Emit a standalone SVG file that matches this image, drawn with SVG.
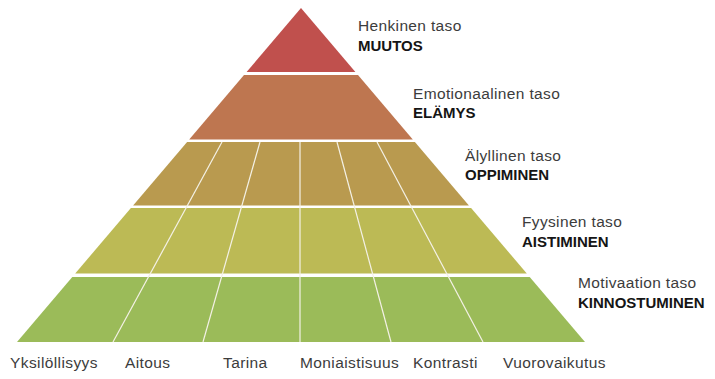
<svg xmlns="http://www.w3.org/2000/svg" width="715" height="379" viewBox="0 0 715 379">
<style>
.lvl{font-family:"Liberation Sans",Arial,sans-serif;font-size:15.5px;letter-spacing:0.35px;fill:#3c3c3c}
.bold{font-family:"Liberation Sans",Arial,sans-serif;font-size:15px;font-weight:bold;fill:#151515}
.base{font-family:"Liberation Sans",Arial,sans-serif;font-size:15.5px;letter-spacing:0.4px;fill:#3c3c3c}
.div{stroke:#f4f1e6;stroke-width:1.2;fill:none}
</style>
<rect width="715" height="379" fill="#ffffff"/>
<g id="band-muutos">
<polygon points="301,8 355.4,72 246.6,72" fill="#C0504D"/>
<text class="lvl" x="358" y="31">Henkinen taso</text>
<text class="bold" x="358" y="51">MUUTOS</text>
</g>
<g id="band-elamys">
<polygon points="244,75 358,75 412.8,139.5 189.2,139.5" fill="#BE7650"/>
<text class="lvl" x="413" y="99">Emotionaalinen taso</text>
<text class="bold" x="413" y="118">ELÄMYS</text>
</g>
<g id="band-oppiminen">
<polygon points="187.1,142 414.9,142 468.9,205.5 133.1,205.5" fill="#B99A4F"/>
<text class="lvl" x="465" y="161">Älyllinen taso</text>
<text class="bold" x="465" y="180">OPPIMINEN</text>
</g>
<g id="band-aistiminen">
<polygon points="130.9,208 471.1,208 526.8,273.5 75.2,273.5" fill="#BCBA55"/>
<text class="lvl" x="522" y="227">Fyysinen taso</text>
<text class="bold" x="522" y="247">AISTIMINEN</text>
</g>
<g id="band-kiinnostuminen">
<polygon points="72.3,277 529.7,277 585,342 17,342" fill="#9BBB59"/>
<text class="lvl" x="578" y="288">Motivaation taso</text>
<text class="bold" x="578" y="308">KINNOSTUMINEN</text>
</g>
<g id="connectors">
<line class="div" x1="222" y1="142" x2="113" y2="342"/>
<line class="div" x1="260" y1="142" x2="203" y2="342"/>
<line class="div" x1="300" y1="142" x2="300" y2="342"/>
<line class="div" x1="337" y1="142" x2="391" y2="342"/>
<line class="div" x1="377" y1="142" x2="483" y2="342"/>
</g>
<g id="column-labels">
<text class="base" x="10" y="368">Yksilöllisyys</text>
<text class="base" x="125" y="368">Aitous</text>
<text class="base" x="223" y="368">Tarina</text>
<text class="base" x="300" y="368">Moniaistisuus</text>
<text class="base" x="413" y="368">Kontrasti</text>
<text class="base" x="503" y="368">Vuorovaikutus</text>
</g>
</svg>
